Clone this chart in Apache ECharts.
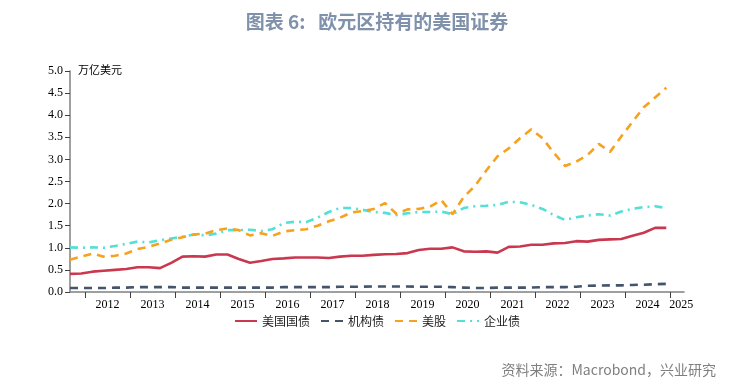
<!DOCTYPE html>
<html><head><meta charset="utf-8">
<script src="https://cdn.jsdelivr.net/npm/echarts@6/dist/echarts.min.js"></script>
<style>html,body{margin:0;padding:0;background:#fff}#c{width:754px;height:390px}</style>
</head><body><div id="c"></div>
<script>
// quarter-end dates
const dates = ['2011-09','2011-12',
'2012-03','2012-06','2012-09','2012-12',
'2013-03','2013-06','2013-09','2013-12',
'2014-03','2014-06','2014-09','2014-12',
'2015-03','2015-06','2015-09','2015-12',
'2016-03','2016-06','2016-09','2016-12',
'2017-03','2017-06','2017-09','2017-12',
'2018-03','2018-06','2018-09','2018-12',
'2019-03','2019-06','2019-09','2019-12',
'2020-03','2020-06','2020-09','2020-12',
'2021-03','2021-06','2021-09','2021-12',
'2022-03','2022-06','2022-09','2022-12',
'2023-03','2023-06','2023-09','2023-12',
'2024-03','2024-06','2024-09','2024-12'];
const treasury = [0.41,0.42,
0.46,0.48,0.50,0.52,
0.56,0.56,0.54,0.66,
0.80,0.81,0.80,0.85,
0.85,0.745,0.66,0.70,
0.745,0.76,0.78,0.78,
0.78,0.77,0.80,0.82,
0.82,0.84,0.855,0.86,
0.88,0.95,0.98,0.98,
1.01,0.92,0.91,0.92,
0.89,1.02,1.03,1.07,
1.07,1.10,1.11,1.15,
1.14,1.18,1.19,1.20,
1.27,1.34,1.45,1.45];
const agency = [0.09,0.09,
0.09,0.09,0.10,0.10,
0.11,0.11,0.11,0.11,
0.10,0.10,0.10,0.10,
0.10,0.10,0.10,0.10,
0.10,0.11,0.11,0.11,
0.11,0.11,0.12,0.12,
0.12,0.125,0.125,0.125,
0.125,0.12,0.12,0.12,
0.11,0.10,0.09,0.09,
0.10,0.10,0.10,0.10,
0.11,0.11,0.11,0.12,
0.14,0.145,0.15,0.15,
0.16,0.165,0.175,0.185];
const equity = [0.73,0.80,
0.87,0.80,0.82,0.87,
0.97,1.02,1.10,1.18,
1.24,1.30,1.32,1.40,
1.44,1.40,1.28,1.33,
1.27,1.37,1.40,1.42,
1.50,1.60,1.68,1.80,
1.83,1.88,2.01,1.77,
1.87,1.88,1.93,2.08,
1.76,2.15,2.40,2.75,
3.07,3.25,3.48,3.68,
3.48,3.15,2.85,2.95,
3.10,3.35,3.17,3.52,
3.85,4.18,4.40,4.62];
const corporate = [1.01,1.00,
1.01,1.00,1.04,1.09,
1.14,1.12,1.17,1.21,
1.25,1.30,1.28,1.32,
1.40,1.40,1.41,1.38,
1.42,1.56,1.59,1.58,
1.68,1.81,1.90,1.90,
1.86,1.81,1.79,1.74,
1.78,1.81,1.81,1.82,
1.76,1.90,1.94,1.95,
1.97,2.04,2.03,1.97,
1.88,1.74,1.63,1.69,
1.73,1.76,1.73,1.82,
1.88,1.92,1.94,1.90];
const seriesNames = ['美国国债','机构债','美股','企业债'];
const yearTicks = [2012,2013,2014,2015,2016,2017,2018,2019,2020,2021,2022,2023,2024,2025];
const yTickLabels = ['0.0','0.5','1.0','1.5','2.0','2.5','3.0','3.5','4.0','4.5','5.0'];

function toYear(s){const p=s.split('-');return +p[0]+(+p[1]-1)/12;}
function pairs(vals){return dates.map((d,i)=>[toYear(d),vals[i]]);}
const labelPos = yearTicks.map((y,i)=> i<yearTicks.length-1 ? y+0.5 : y+0.25);

const chart = echarts.init(document.getElementById('c'));
const serif = '"Liberation Serif","DejaVu Serif",serif';
const cjk = '"Noto Sans CJK SC","Noto Sans",sans-serif';
const colors = ['#c9384f','#44546a','#f5a21f','#52e0d7'];
const dashes = ['solid',[8,6],[8,6],[8,5,2,5]];
const data = [treasury, agency, equity, corporate];
chart.setOption({
  animation:false,
  backgroundColor:'#fff',
  title:{text:'图表 6:   欧元区持有的美国证券',left:'center',top:7,
    textStyle:{fontFamily:cjk,fontSize:19,fontWeight:'bold',color:'#7f91ab'}},
  grid:{left:70,right:70,top:71,bottom:98},
  legend:{bottom:58,left:'center',itemWidth:22,itemHeight:10,itemGap:10,
    itemStyle:{opacity:0},
    textStyle:{fontFamily:cjk,fontSize:12,color:'#222'},
    data:seriesNames},
  xAxis:{type:'value',min:2011.667,max:2025.31,
    splitLine:{show:false},
    axisLine:{lineStyle:{color:'#808080',width:1.5}},
    axisTick:{show:true,length:6,inside:false,customValues:yearTicks,lineStyle:{color:'#404040'}},
    axisLabel:{customValues:labelPos,formatter:v=>String(Math.floor(v)),
      fontFamily:serif,fontSize:12,color:'#000',margin:7}},
  yAxis:{type:'value',min:0,max:5,interval:0.5,
    splitLine:{show:false},
    axisLine:{show:true,lineStyle:{color:'#808080',width:1.5}},
    axisTick:{show:true,length:5,inside:false,lineStyle:{color:'#404040'}},
    axisLabel:{formatter:v=>yTickLabels[Math.round(v*2)],fontFamily:serif,fontSize:12,color:'#000',margin:7}},
  graphic:[
    {type:'text',left:78,top:64,style:{text:'万亿美元',font:'11px '+cjk,fill:'#000'}},
    {type:'text',right:38,top:363,style:{text:'资料来源：Macrobond，兴业研究',font:'14px '+cjk,fill:'#7f7f7f'}}
  ],
  series: seriesNames.map((n,i)=>({
    name:n,type:'line',data:pairs(data[i]),showSymbol:false,symbol:'none',
    lineStyle:{color:colors[i],width:2.6,type:dashes[i]},
    itemStyle:{color:colors[i]},z:10-i
  }))
});
</script></body></html>
